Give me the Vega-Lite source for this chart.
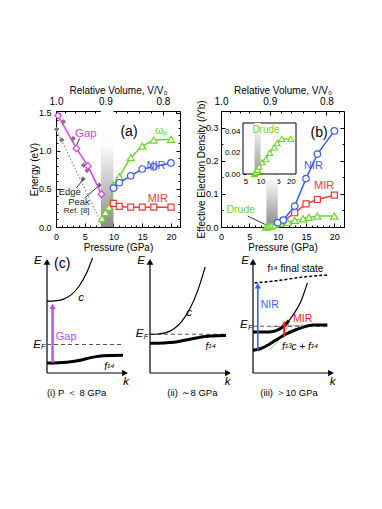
{
 "$schema": "https://vega.github.io/schema/vega-lite/v6.json",
 "padding": {"left": 28, "top": 84, "right": 2, "bottom": 5},
 "background": "white",
 "spacing": 2,
 "config": {
  "view": {"stroke": "black", "strokeWidth": 1},
  "axis": {"domain": false, "grid": false, "tickColor": "black", "tickSize": -4, "tickWidth": 1, "labelFont": "Liberation Sans", "labelFontSize": 9, "labelColor": "black", "labelPadding": 9, "labelFlush": false, "labelOverlap": false, "titleFont": "Liberation Sans", "titleFontSize": 10, "titleFontWeight": "normal", "titleColor": "black", "zindex": 1},
  "text": {"font": "Liberation Sans"}
 },
 "datasets": {
  "gap": [{"P":0.35,"E":1.46},{"P":3.55,"E":1.03},{"P":5.55,"E":0.8},{"P":7.9,"E":0.43}],
  "peak": [{"P":1.3,"E":1.38},{"P":3.0,"E":1.16},{"P":4.8,"E":0.81},{"P":5.4,"E":0.74},{"P":7.5,"E":0.55}],
  "edge": [{"P":0.1,"E":1.28},{"P":1.0,"E":1.14},{"P":4.7,"E":0.63}],
  "edgefit": [{"P":0.1,"E":1.27},{"P":8.2,"E":0}],
  "wp": [{"P":8.0,"E":0.11},{"P":8.6,"E":0.19},{"P":9.2,"E":0.26},{"P":10,"E":0.55},{"P":11,"E":0.66},{"P":13,"E":0.91},{"P":15,"E":1.06},{"P":17,"E":1.14},{"P":20,"E":1.15}],
  "nirA": [{"P":10,"E":0.51},{"P":11,"E":0.58},{"P":13,"E":0.67},{"P":15,"E":0.76},{"P":17,"E":0.79},{"P":20,"E":0.84}],
  "mirA": [{"P":10,"E":0.31},{"P":11,"E":0.27},{"P":13,"E":0.26},{"P":15,"E":0.26},{"P":17,"E":0.26},{"P":20,"E":0.26}],
  "connA": [{"id":"g","P":4.12,"E":1.16},{"id":"g","P":3.43,"E":1.05},{"id":"e","P":3.53,"E":0.51},{"id":"e","P":4.82,"E":0.63},{"id":"p","P":4.99,"E":0.38},{"id":"p","P":7.6,"E":0.55}],
  "nirB": [{"P":10,"n":0.013},{"P":11,"n":0.021},{"P":13,"n":0.063},{"P":15,"n":0.146},{"P":17,"n":0.22},{"P":20,"n":0.29}],
  "mirB": [{"P":10,"n":0.011},{"P":11,"n":0.018},{"P":13,"n":0.043},{"P":15,"n":0.07},{"P":17,"n":0.083},{"P":20,"n":0.096}],
  "drude": [{"P":8.0,"n":0.0},{"P":8.3,"n":0.001},{"P":8.6,"n":0.002},{"P":9.0,"n":0.004},{"P":9.5,"n":0.007},{"P":10.5,"n":0.011},{"P":11.8,"n":0.014},{"P":13,"n":0.02},{"P":14.5,"n":0.025},{"P":15.5,"n":0.029},{"P":17,"n":0.033},{"P":20,"n":0.033}],
  "connB": [{"P":4.7,"n":0.033},{"P":7.9,"n":0.007}],
  "axesS": [{"id":"v","k":0,"E":0},{"id":"v","k":0,"E":0.97},{"id":"h","k":0,"E":0},{"id":"h","k":0.97,"E":0}],
  "ahUp": [{"k":0,"E":0.975}],
  "ahRight": [{"k":0.975,"E":0}],
  "c1": [{"k":0,"E":0.63},{"k":0.1,"E":0.632},{"k":0.2,"E":0.646},{"k":0.3,"E":0.685},{"k":0.4,"E":0.761},{"k":0.5,"E":0.886},{"k":0.57,"E":1.01}],
  "f1": [{"k":0,"E":0.088},{"k":0.25,"E":0.095},{"k":0.4,"E":0.11},{"k":0.55,"E":0.135},{"k":0.7,"E":0.152},{"k":0.95,"E":0.155}],
  "c2": [{"k":0,"E":0.34},{"k":0.1,"E":0.342},{"k":0.2,"E":0.354},{"k":0.3,"E":0.389},{"k":0.4,"E":0.455},{"k":0.5,"E":0.565},{"k":0.6,"E":0.729},{"k":0.69,"E":0.931}],
  "f2": [{"k":0,"E":0.26},{"k":0.3,"E":0.27},{"k":0.45,"E":0.29},{"k":0.6,"E":0.31},{"k":0.75,"E":0.325},{"k":0.95,"E":0.33}],
  "fs3": [{"k":0.02,"E":0.79},{"k":0.3,"E":0.81},{"k":0.6,"E":0.84},{"k":0.93,"E":0.86}],
  "low3": [{"k":0,"E":0.2},{"k":0.1,"E":0.215},{"k":0.2,"E":0.25},{"k":0.3,"E":0.295},{"k":0.41,"E":0.34},{"k":0.52,"E":0.375},{"k":0.62,"E":0.4},{"k":0.75,"E":0.42},{"k":0.93,"E":0.42}],
  "up3": [{"k":0,"E":0.36},{"k":0.15,"E":0.36},{"k":0.25,"E":0.365},{"k":0.33,"E":0.385},{"k":0.4,"E":0.42},{"k":0.45,"E":0.46}],
  "cup3": [{"k":0.45,"E":0.46},{"k":0.52,"E":0.53},{"k":0.6,"E":0.63},{"k":0.68,"E":0.79}],
  "grey3": [{"id":"c","k":0.2,"E":0.2},{"id":"c","k":0.3,"E":0.27},{"id":"c","k":0.4,"E":0.37},{"id":"c","k":0.45,"E":0.43},{"id":"f","k":0.22,"E":0.405},{"id":"f","k":0.4,"E":0.41},{"id":"f","k":0.62,"E":0.42}]
 },
 "vconcat": [
 {"hconcat": [
  {
   "width": 124, "height": 116,
   "encoding": {
    "x": {"field":"P","type":"quantitative","scale":{"domain":[0,21.57],"nice":false,"zero":false},"axis":null},
    "y": {"field":"E","type":"quantitative","scale":{"domain":[0,1.52],"nice":false,"zero":false},"axis":null}
   },
   "layer": [
    {"data":{"values":[{"P":7.8,"P2":10,"E":0,"E2":1.52}]},"mark":{"type":"rect","fill":{"gradient":"linear","x1":0,"y1":0,"x2":0,"y2":1,"stops":[{"offset":0,"color":"#ffffff"},{"offset":0.3,"color":"#fbfbfb"},{"offset":1,"color":"#8a8a8a"}]}},"encoding":{"x2":{"field":"P2"},"y2":{"field":"E2"}}},
    {"data":{"values":[{"P":0,"E":0}]},"mark":{"type":"point","opacity":0},"encoding":{
      "x":{"field":"P","type":"quantitative","scale":{"domain":[0,21.57],"nice":false,"zero":false},"axis":{"orient":"bottom","values":[0,5,10,15,20],"title":"Pressure (GPa)","titleY":15}},
      "y":{"field":"E","type":"quantitative","scale":{"domain":[0,1.52],"nice":false,"zero":false},"axis":{"orient":"left","values":[0,0.5,1,1.5],"format":".1f","title":"Energy (eV)","titleX":-17}}}},
    {"data":{"values":[{"P":0,"E":0}]},"mark":{"type":"point","opacity":0},"encoding":{
      "x":{"field":"P","type":"quantitative","scale":{"domain":[0,21.57],"nice":false,"zero":false},"axis":{"orient":"bottom","values":[1,2,3,4,6,7,8,9,11,12,13,14,16,17,18,19,21],"labels":false,"tickSize":-2,"title":null}},
      "y":{"field":"E","type":"quantitative","scale":{"domain":[0,1.52],"nice":false,"zero":false},"axis":{"orient":"left","values":[0.1,0.2,0.3,0.4,0.6,0.7,0.8,0.9,1.1,1.2,1.3,1.4],"labels":false,"tickSize":-2,"title":null}}}},
    {"data":{"values":[{"P":0,"E":0}]},"mark":{"type":"point","opacity":0},"encoding":{
      "x":{"field":"P","type":"quantitative","scale":{"domain":[0,21.57],"nice":false,"zero":false},"axis":{"orient":"top","values":[0,8.6,18.6],"labelFontSize":10,"labelExpr":"datum.value < 4 ? '1.0' : datum.value < 14 ? '0.9' : '0.8'","title":"Relative Volume, V/V₀","titleY":-16}},
      "y":{"field":"E","type":"quantitative","scale":{"domain":[0,1.52],"nice":false,"zero":false},"axis":{"orient":"right","values":[0,0.5,1,1.5],"labels":false,"title":null}}}},
    {"data":{"values":[{"P":0,"E":0}]},"mark":{"type":"point","opacity":0},"encoding":{
      "x":{"field":"P","type":"quantitative","scale":{"domain":[0,21.57],"nice":false,"zero":false},"axis":{"orient":"top","values":[1.6,3.3,5.0,6.8,10.5,12.4,14.4,16.5,20.8],"labels":false,"tickSize":-2,"title":null}},
      "y":{"field":"E","type":"quantitative","scale":{"domain":[0,1.52],"nice":false,"zero":false},"axis":{"orient":"right","values":[0.1,0.2,0.3,0.4,0.6,0.7,0.8,0.9,1.1,1.2,1.3,1.4],"labels":false,"tickSize":-2,"title":null}}}},
    {"data":{"name":"edgefit"},"mark":{"type":"line","color":"#8a8a8a","strokeWidth":1.2,"strokeDash":[1.5,2]}},
    {"data":{"name":"edge"},"mark":{"type":"point","shape":"diamond","filled":true,"color":"#7a7a7a","opacity":1,"size":28}},
    {"data":{"name":"peak"},"mark":{"type":"point","shape":"diamond","filled":true,"color":"#7a7a7a","opacity":1,"size":28}},
    {"data":{"name":"connA"},"mark":{"type":"line","color":"black","strokeWidth":0.8},"encoding":{"detail":{"field":"id"}}},
    {"data":{"name":"gap"},"mark":{"type":"line","color":"#e23de2","strokeWidth":1.5,"point":{"shape":"diamond","filled":true,"fill":"white","stroke":"#e23de2","strokeWidth":1.2,"size":45,"opacity":1}}},
    {"data":{"name":"wp"},"mark":{"type":"line","color":"#6cd62e","strokeWidth":1.5,"point":{"shape":"triangle-up","filled":true,"fill":"white","stroke":"#6cd62e","strokeWidth":1.2,"size":50,"opacity":1}}},
    {"data":{"name":"nirA"},"mark":{"type":"line","color":"#3c5ef0","strokeWidth":1.5,"point":{"shape":"circle","filled":true,"fill":"white","stroke":"#3c5ef0","strokeWidth":1.2,"size":42,"opacity":1}}},
    {"data":{"name":"mirA"},"mark":{"type":"line","color":"#ec3b3b","strokeWidth":1.5,"point":{"shape":"square","filled":true,"fill":"white","stroke":"#ec3b3b","strokeWidth":1.2,"size":36,"opacity":1}}},
    {"data":{"values":[{"P":5.2,"E":1.22,"t":"Gap"}]},"mark":{"type":"text","fontSize":11.5,"color":"#e23de2"},"encoding":{"text":{"field":"t"}}},
    {"data":{"values":[{"P":12.7,"E":1.24,"t":"(a)"}]},"mark":{"type":"text","fontSize":14},"encoding":{"text":{"field":"t"}}},
    {"data":{"values":[{"P":18.3,"E":1.26,"t":"ωₚ"}]},"mark":{"type":"text","fontSize":11,"color":"#6cd62e"},"encoding":{"text":{"field":"t"}}},
    {"data":{"values":[{"P":17.4,"E":0.8,"t":"NIR"}]},"mark":{"type":"text","fontSize":11,"color":"#3c5ef0"},"encoding":{"text":{"field":"t"}}},
    {"data":{"values":[{"P":17.7,"E":0.37,"t":"MIR"}]},"mark":{"type":"text","fontSize":11,"color":"#ec3b3b"},"encoding":{"text":{"field":"t"}}},
    {"data":{"values":[{"P":2.4,"E":0.46,"t":"Edge"},{"P":4.0,"E":0.33,"t":"Peak"}]},"mark":{"type":"text","fontSize":9.5,"color":"#222"},"encoding":{"text":{"field":"t"}}},
    {"data":{"values":[{"P":3.6,"E":0.21,"t":"Ref. [8]"}]},"mark":{"type":"text","fontSize":8,"color":"#222"},"encoding":{"text":{"field":"t"}}}
   ],
   "resolve": {"axis": {"x":"independent","y":"independent"}}
  },
  {
   "width": 123, "height": 116,
   "encoding": {
    "x": {"field":"P","type":"quantitative","scale":{"domain":[0,21.7],"nice":false,"zero":false},"axis":null},
    "y": {"field":"n","type":"quantitative","scale":{"domain":[0,0.35],"nice":false,"zero":false},"axis":null}
   },
   "layer": [
    {"data":{"values":[{"P":8,"P2":10,"n":0,"n2":0.15}]},"mark":{"type":"rect","fill":{"gradient":"linear","x1":0,"y1":0,"x2":0,"y2":1,"stops":[{"offset":0,"color":"#ffffff"},{"offset":1,"color":"#8a8a8a"}]}},"encoding":{"x2":{"field":"P2"},"y2":{"field":"n2"}}},
    {"data":{"values":[{"P":0,"n":0}]},"mark":{"type":"point","opacity":0},"encoding":{
      "x":{"field":"P","type":"quantitative","scale":{"domain":[0,21.7],"nice":false,"zero":false},"axis":{"orient":"bottom","values":[0,5,10,15,20],"title":"Pressure (GPa)","titleY":15}},
      "y":{"field":"n","type":"quantitative","scale":{"domain":[0,0.35],"nice":false,"zero":false},"axis":{"orient":"left","values":[0,0.1,0.2,0.3],"format":".1f","labelPadding":7,"title":"Effective Electron Density (/Yb)","titleX":-15}}}},
    {"data":{"values":[{"P":0,"n":0}]},"mark":{"type":"point","opacity":0},"encoding":{
      "x":{"field":"P","type":"quantitative","scale":{"domain":[0,21.7],"nice":false,"zero":false},"axis":{"orient":"bottom","values":[1,2,3,4,6,7,8,9,11,12,13,14,16,17,18,19,21],"labels":false,"tickSize":-2,"title":null}},
      "y":{"field":"n","type":"quantitative","scale":{"domain":[0,0.35],"nice":false,"zero":false},"axis":{"orient":"left","values":[0.05,0.15,0.25],"labels":false,"tickSize":-2,"title":null}}}},
    {"data":{"values":[{"P":0,"n":0}]},"mark":{"type":"point","opacity":0},"encoding":{
      "x":{"field":"P","type":"quantitative","scale":{"domain":[0,21.7],"nice":false,"zero":false},"axis":{"orient":"top","values":[0,8.6,18.6],"labelFontSize":10,"labelExpr":"datum.value < 4 ? '1.0' : datum.value < 14 ? '0.9' : '0.8'","title":"Relative Volume, V/V₀","titleY":-16}},
      "y":{"field":"n","type":"quantitative","scale":{"domain":[0,0.35],"nice":false,"zero":false},"axis":{"orient":"right","values":[0,0.1,0.2,0.3],"labels":false,"title":null}}}},
    {"data":{"values":[{"P":0,"n":0}]},"mark":{"type":"point","opacity":0},"encoding":{
      "x":{"field":"P","type":"quantitative","scale":{"domain":[0,21.7],"nice":false,"zero":false},"axis":{"orient":"top","values":[1.6,3.3,5.0,6.8,10.5,12.4,14.4,16.5,20.8],"labels":false,"tickSize":-2,"title":null}},
      "y":{"field":"n","type":"quantitative","scale":{"domain":[0,0.35],"nice":false,"zero":false},"axis":{"orient":"right","values":[0.05,0.15,0.25],"labels":false,"tickSize":-2,"title":null}}}},
    {"data":{"values":[{"P":4.2,"P2":21.7,"n":0,"n2":0.048}]},"mark":{"type":"rect","fill":"white","stroke":"black","strokeWidth":1},"encoding":{
      "x":{"field":"P","type":"quantitative","scale":{"domain":[4.2,21.7],"range":[22,75],"nice":false,"zero":false},"axis":null},
      "x2":{"field":"P2"},
      "y":{"field":"n","type":"quantitative","scale":{"domain":[0,0.048],"range":[63,12],"nice":false,"zero":false},"axis":null},
      "y2":{"field":"n2"}}},
    {"data":{"values":[{"P":8,"P2":10,"n":0,"n2":0.048}]},"mark":{"type":"rect","fill":{"gradient":"linear","x1":0,"y1":0,"x2":0,"y2":1,"stops":[{"offset":0,"color":"#ffffff"},{"offset":1,"color":"#9a9a9a"}]}},"encoding":{
      "x":{"field":"P","type":"quantitative","scale":{"domain":[4.2,21.7],"range":[22,75],"nice":false,"zero":false},"axis":null},
      "x2":{"field":"P2"},
      "y":{"field":"n","type":"quantitative","scale":{"domain":[0,0.048],"range":[63,12],"nice":false,"zero":false},"axis":null},
      "y2":{"field":"n2"}}},
    {"data":{"values":[{"P":5,"n":0}]},"mark":{"type":"point","opacity":0},"encoding":{
      "x":{"field":"P","type":"quantitative","scale":{"domain":[4.2,21.7],"range":[22,75],"nice":false,"zero":false},"axis":{"orient":"bottom","offset":-53,"values":[5,10,15,20],"labelFontSize":8,"tickSize":-3,"labelPadding":6,"title":null}},
      "y":{"field":"n","type":"quantitative","scale":{"domain":[0,0.048],"range":[63,12],"nice":false,"zero":false},"axis":{"orient":"left","offset":-22,"values":[0,0.02,0.04],"format":".2f","labelFontSize":8,"tickSize":-3,"labelPadding":6,"title":null}}}},
    {"data":{"name":"drude"},"mark":{"type":"line","color":"#6cd62e","strokeWidth":1.3,"point":{"shape":"triangle-up","filled":true,"fill":"white","stroke":"#6cd62e","strokeWidth":1.1,"size":36,"opacity":1}},"encoding":{
      "x":{"field":"P","type":"quantitative","scale":{"domain":[4.2,21.7],"range":[22,75],"nice":false,"zero":false},"axis":null},
      "y":{"field":"n","type":"quantitative","scale":{"domain":[0,0.048],"range":[63,12],"nice":false,"zero":false},"axis":null}}},
    {"data":{"values":[{"P":11.8,"n":0.041,"t":"Drude"}]},"mark":{"type":"text","fontSize":10,"color":"#6cd62e"},"encoding":{
      "x":{"field":"P","type":"quantitative","scale":{"domain":[4.2,21.7],"range":[22,75],"nice":false,"zero":false},"axis":null},
      "y":{"field":"n","type":"quantitative","scale":{"domain":[0,0.048],"range":[63,12],"nice":false,"zero":false},"axis":null},
      "text":{"field":"t"}}},
    {"data":{"name":"connB"},"mark":{"type":"line","color":"black","strokeWidth":0.8}},
    {"data":{"name":"mirB"},"mark":{"type":"line","color":"#ec3b3b","strokeWidth":1.5,"point":{"shape":"square","filled":true,"fill":"white","stroke":"#ec3b3b","strokeWidth":1.2,"size":36,"opacity":1}}},
    {"data":{"name":"drude"},"mark":{"type":"line","color":"#6cd62e","strokeWidth":1.5,"point":{"shape":"triangle-up","filled":true,"fill":"white","stroke":"#6cd62e","strokeWidth":1.2,"size":50,"opacity":1}}},
    {"data":{"name":"nirB"},"mark":{"type":"line","color":"#3c5ef0","strokeWidth":1.5,"point":{"shape":"circle","filled":true,"fill":"white","stroke":"#3c5ef0","strokeWidth":1.2,"size":42,"opacity":1}}},
    {"data":{"values":[{"P":17.3,"n":0.285,"t":"(b)"}]},"mark":{"type":"text","fontSize":14},"encoding":{"text":{"field":"t"}}},
    {"data":{"values":[{"P":16.3,"n":0.185,"t":"NIR"}]},"mark":{"type":"text","fontSize":11,"color":"#3c5ef0"},"encoding":{"text":{"field":"t"}}},
    {"data":{"values":[{"P":18.2,"n":0.124,"t":"MIR"}]},"mark":{"type":"text","fontSize":11,"color":"#ec3b3b"},"encoding":{"text":{"field":"t"}}},
    {"data":{"values":[{"P":3.5,"n":0.05,"t":"Drude"}]},"mark":{"type":"text","fontSize":10.5,"color":"#6cd62e"},"encoding":{"text":{"field":"t"}}}
   ],
   "resolve": {"scale": {"x":"independent","y":"independent"}, "axis": {"x":"independent","y":"independent"}}
  }
 ], "spacing": 41, "bounds": "flush"},
 {"hconcat": [
  {
   "width": 74, "height": 114, "view": {"stroke": null},
   "encoding": {
    "x": {"field":"k","type":"quantitative","scale":{"domain":[0.1125,1.0375],"nice":false,"zero":false},"axis":null},
    "y": {"field":"E","type":"quantitative","scale":{"domain":[0,1],"nice":false,"zero":false},"axis":null}
   },
   "layer": [
    {"data":{"values":[{"k":-0.225,"E":0.5}]},"mark":{"type":"point","opacity":0,"size":1}},
    {"data":{"name":"axesS"},"mark":{"type":"line","color":"black","strokeWidth":1.2},"encoding":{"detail":{"field":"id"}}},
    {"data":{"name":"ahUp"},"mark":{"type":"point","shape":"triangle-up","filled":true,"color":"black","opacity":1,"size":45}},
    {"data":{"name":"ahRight"},"mark":{"type":"point","shape":"triangle-right","filled":true,"color":"black","opacity":1,"size":45}},
    {"data":{"values":[{"k":0,"E":0.25},{"k":0.96,"E":0.25}]},"mark":{"type":"line","color":"#555","strokeWidth":1,"strokeDash":[4,3]}},
    {"data":{"name":"c1"},"mark":{"type":"line","color":"black","strokeWidth":1.2,"interpolate":"monotone"}},
    {"data":{"name":"f1"},"mark":{"type":"line","color":"black","strokeWidth":3,"interpolate":"monotone"}},
    {"data":{"values":[{"k":0.07,"E":0.09},{"k":0.07,"E":0.57}]},"mark":{"type":"line","color":"#c050f0","strokeWidth":2.5}},
    {"data":{"values":[{"k":0.07,"E":0.585}]},"mark":{"type":"point","shape":"triangle-up","filled":true,"color":"#c050f0","opacity":1,"size":40}},
    {"data":{"values":[{"k":-0.115,"E":0.98,"t":"E"},{"k":0.425,"E":0.66,"t":"c"},{"k":0.99,"E":-0.075,"t":"k"},{"k":-0.125,"E":0.25,"t":"E"}]},"mark":{"type":"text","fontSize":11.5,"fontStyle":"italic"},"encoding":{"text":{"field":"t"}}},
    {"data":{"values":[{"k":-0.045,"E":0.225,"t":"F"}]},"mark":{"type":"text","fontSize":7.5,"fontStyle":"italic"},"encoding":{"text":{"field":"t"}}},
    {"data":{"values":[{"k":0.78,"E":0.05,"t":"f¹⁴"}]},"mark":{"type":"text","fontSize":10,"fontStyle":"italic"},"encoding":{"text":{"field":"t"}}},
    {"data":{"values":[{"k":0.19,"E":0.955,"t":"(c)"}]},"mark":{"type":"text","fontSize":14},"encoding":{"text":{"field":"t"}}},
    {"data":{"values":[{"k":0.24,"E":0.32,"t":"Gap"}]},"mark":{"type":"text","fontSize":11,"color":"#c050f0"},"encoding":{"text":{"field":"t"}}},
    {"data":{"values":[{"k":0.37,"E":-0.175,"t":"(i) P ＜ 8 GPa"}]},"mark":{"type":"text","fontSize":9.5},"encoding":{"text":{"field":"t"}}}
   ]
  },
  {
   "width": 83, "height": 114, "view": {"stroke": null},
   "encoding": {
    "x": {"field":"k","type":"quantitative","scale":{"domain":[0,1.0375],"nice":false,"zero":false},"axis":null},
    "y": {"field":"E","type":"quantitative","scale":{"domain":[0,1],"nice":false,"zero":false},"axis":null}
   },
   "layer": [
    {"data":{"name":"axesS"},"mark":{"type":"line","color":"black","strokeWidth":1.2},"encoding":{"detail":{"field":"id"}}},
    {"data":{"name":"ahUp"},"mark":{"type":"point","shape":"triangle-up","filled":true,"color":"black","opacity":1,"size":45}},
    {"data":{"name":"ahRight"},"mark":{"type":"point","shape":"triangle-right","filled":true,"color":"black","opacity":1,"size":45}},
    {"data":{"values":[{"k":0,"E":0.34},{"k":0.94,"E":0.34}]},"mark":{"type":"line","color":"#555","strokeWidth":1,"strokeDash":[4,3]}},
    {"data":{"name":"c2"},"mark":{"type":"line","color":"black","strokeWidth":1.2,"interpolate":"monotone"}},
    {"data":{"name":"f2"},"mark":{"type":"line","color":"black","strokeWidth":3,"interpolate":"monotone"}},
    {"data":{"values":[{"k":-0.11,"E":0.98,"t":"E"},{"k":0.49,"E":0.53,"t":"c"},{"k":0.97,"E":-0.08,"t":"k"},{"k":-0.13,"E":0.34,"t":"E"}]},"mark":{"type":"text","fontSize":11.5,"fontStyle":"italic"},"encoding":{"text":{"field":"t"}}},
    {"data":{"values":[{"k":-0.05,"E":0.315,"t":"F"}]},"mark":{"type":"text","fontSize":7.5,"fontStyle":"italic"},"encoding":{"text":{"field":"t"}}},
    {"data":{"values":[{"k":0.76,"E":0.23,"t":"f¹⁴"}]},"mark":{"type":"text","fontSize":10,"fontStyle":"italic"},"encoding":{"text":{"field":"t"}}},
    {"data":{"values":[{"k":0.53,"E":-0.175,"t":"(ii) ～8 GPa"}]},"mark":{"type":"text","fontSize":9.5},"encoding":{"text":{"field":"t"}}}
   ]
  },
  {
   "width": 80, "height": 114, "view": {"stroke": null},
   "encoding": {
    "x": {"field":"k","type":"quantitative","scale":{"domain":[0,1],"nice":false,"zero":false},"axis":null},
    "y": {"field":"E","type":"quantitative","scale":{"domain":[0,1],"nice":false,"zero":false},"axis":null}
   },
   "layer": [
    {"data":{"name":"axesS"},"mark":{"type":"line","color":"black","strokeWidth":1.2},"encoding":{"detail":{"field":"id"}}},
    {"data":{"name":"ahUp"},"mark":{"type":"point","shape":"triangle-up","filled":true,"color":"black","opacity":1,"size":45}},
    {"data":{"name":"ahRight"},"mark":{"type":"point","shape":"triangle-right","filled":true,"color":"black","opacity":1,"size":45}},
    {"data":{"name":"fs3"},"mark":{"type":"line","color":"black","strokeWidth":1.5,"strokeDash":[3,2],"interpolate":"monotone"}},
    {"data":{"name":"grey3"},"mark":{"type":"line","color":"#999","strokeWidth":0.8,"interpolate":"monotone"},"encoding":{"detail":{"field":"id"}}},
    {"data":{"values":[{"k":0,"E":0.41},{"k":0.93,"E":0.41}]},"mark":{"type":"line","color":"#555","strokeWidth":1,"strokeDash":[4,3]}},
    {"data":{"name":"low3"},"mark":{"type":"line","color":"black","strokeWidth":3,"interpolate":"monotone"}},
    {"data":{"name":"up3"},"mark":{"type":"line","color":"black","strokeWidth":3,"interpolate":"monotone"}},
    {"data":{"name":"cup3"},"mark":{"type":"line","color":"black","strokeWidth":1.2,"interpolate":"monotone"}},
    {"data":{"values":[{"k":0.06,"E":0.2},{"k":0.06,"E":0.75}]},"mark":{"type":"line","color":"#3c5ef0","strokeWidth":1.6}},
    {"data":{"values":[{"k":0.06,"E":0.765}]},"mark":{"type":"point","shape":"triangle-up","filled":true,"color":"#3c5ef0","opacity":1,"size":40}},
    {"data":{"values":[{"k":0.39,"E":0.32},{"k":0.39,"E":0.42}]},"mark":{"type":"line","color":"#ee2222","strokeWidth":2}},
    {"data":{"values":[{"k":0.39,"E":0.435}]},"mark":{"type":"point","shape":"triangle-up","filled":true,"color":"#ee2222","opacity":1,"size":32}},
    {"data":{"values":[{"k":-0.1,"E":0.98,"t":"E"},{"k":0.995,"E":-0.08,"t":"k"},{"k":-0.115,"E":0.42,"t":"E"}]},"mark":{"type":"text","fontSize":11.5,"fontStyle":"italic"},"encoding":{"text":{"field":"t"}}},
    {"data":{"values":[{"k":-0.035,"E":0.395,"t":"F"}]},"mark":{"type":"text","fontSize":7.5,"fontStyle":"italic"},"encoding":{"text":{"field":"t"}}},
    {"data":{"values":[{"k":0.53,"E":0.91,"t":"f¹⁴ final state"}]},"mark":{"type":"text","fontSize":10},"encoding":{"text":{"field":"t"}}},
    {"data":{"values":[{"k":0.21,"E":0.6,"t":"NIR"}]},"mark":{"type":"text","fontSize":10.5,"color":"#3c5ef0"},"encoding":{"text":{"field":"t"}}},
    {"data":{"values":[{"k":0.62,"E":0.47,"t":"MIR"}]},"mark":{"type":"text","fontSize":10.5,"color":"#ee2222"},"encoding":{"text":{"field":"t"}}},
    {"data":{"values":[{"k":0.59,"E":0.23,"t":"f¹³c + f¹⁴"}]},"mark":{"type":"text","fontSize":10,"fontStyle":"italic"},"encoding":{"text":{"field":"t"}}},
    {"data":{"values":[{"k":0.45,"E":-0.175,"t":"(iii) ＞10 GPa"}]},"mark":{"type":"text","fontSize":9.5},"encoding":{"text":{"field":"t"}}}
   ]
  }
 ], "spacing": 20, "bounds": "flush"}
 ]
}
